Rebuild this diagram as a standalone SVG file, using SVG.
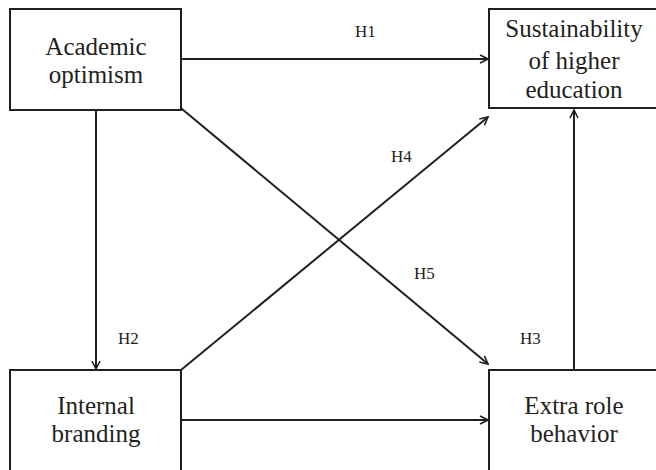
<svg xmlns="http://www.w3.org/2000/svg" width="656" height="470" viewBox="0 0 656 470">
<style>
.box{fill:#fff;stroke:#231f20;stroke-width:2}
.t{font-family:"Liberation Serif","Times New Roman",serif;font-size:25px;fill:#231f20;text-anchor:middle}
.h{font-family:"Liberation Serif","Times New Roman",serif;font-size:17px;fill:#231f20}
.c{stroke:#231f20;stroke-width:2;fill:none;marker-end:url(#arr)}
</style>
<defs>
<marker id="arr" viewBox="0 0 10 10" refX="9" refY="5" markerWidth="5" markerHeight="5" orient="auto" markerUnits="strokeWidth">
<path d="M1,1 L9,5 L1,9" fill="none" stroke="#231f20" stroke-width="1.6"/>
</marker>
</defs>
<rect width="656" height="470" fill="#fff"/>
<g id="connectors">
<line class="c" x1="181" y1="59" x2="488" y2="59"/>
<line class="c" x1="96" y1="110" x2="96" y2="369"/>
<line class="c" x1="574" y1="370" x2="574" y2="110"/>
<line class="c" x1="181" y1="370" x2="488" y2="117"/>
<line class="c" x1="176" y1="104" x2="488" y2="364"/>
<line class="c" x1="181" y1="420" x2="488" y2="420"/>
<text class="h" x="355" y="37">H1</text>
<text class="h" x="118" y="344">H2</text>
<text class="h" x="520" y="344">H3</text>
<text class="h" x="391" y="162">H4</text>
<text class="h" x="414" y="279">H5</text>
</g>
<g id="academic-optimism">
<rect class="box" x="10" y="9" width="171" height="101"/>
<text class="t" x="96" y="55">Academic</text>
<text class="t" x="96" y="83">optimism</text>
</g>
<g id="sustainability">
<rect class="box" x="489" y="9" width="180" height="99"/>
<text class="t" x="574" y="37">Sustainability</text>
<text class="t" x="574" y="69">of higher</text>
<text class="t" x="574" y="98">education</text>
</g>
<g id="internal-branding">
<rect class="box" x="10" y="370" width="171" height="110"/>
<text class="t" x="96" y="414">Internal</text>
<text class="t" x="96" y="442">branding</text>
</g>
<g id="extra-role">
<rect class="box" x="489" y="370" width="180" height="110"/>
<text class="t" x="574" y="414">Extra role</text>
<text class="t" x="574" y="442">behavior</text>
</g>
</svg>
